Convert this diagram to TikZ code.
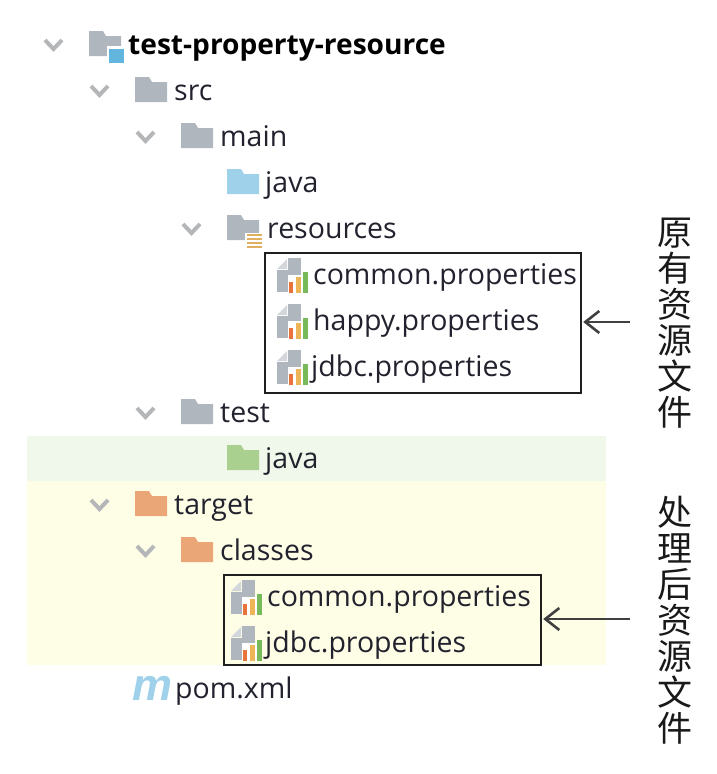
\documentclass[tikz,border=0pt]{standalone}
\usepackage{fontspec}
\setmainfont{Open Sans}
\newfontfamily\cjkfont{Noto Sans CJK SC}
\newfontfamily\mfont{Liberation Sans}
\usetikzlibrary{arrows.meta}
\definecolor{txt}{HTML}{22222E}
\definecolor{greyf}{HTML}{AFB6BE}
\definecolor{chev}{HTML}{B4B6B8}
\definecolor{bluef}{HTML}{9FD2EA}
\definecolor{greenf}{HTML}{A9D08E}
\definecolor{orangef}{HTML}{EBA678}
\definecolor{bluesq}{HTML}{62B5DC}
\definecolor{rowgreen}{HTML}{EFF8EA}
\definecolor{rowyellow}{HTML}{FEFEE6}
\definecolor{barO}{HTML}{E8743B}
\definecolor{barY}{HTML}{EDB458}
\definecolor{barG}{HTML}{77B95B}
\definecolor{linesO}{HTML}{E0B060}
\tikzset{
  treelabel/.style={anchor=base west,inner sep=0pt,text=txt,font=\fontsize{28.5}{30}\selectfont},
  rootlabel/.style={treelabel,font=\fontsize{28.1}{30}\selectfont\bfseries,text=black},
  selbox/.style={draw=black!88,line width=2.2pt,anchor=north west,inner sep=0pt,fill=none},
  notearrow/.style={draw=black!75,line width=2.8pt,-{Straight Barb[length=14pt,width=22pt,line width=2.6pt]},shorten >=1pt},
  notetext/.style={inner sep=0pt,align=center,text=black!90,font=\cjkfont\fontsize{35}{36}\selectfont},
  mlabel/.style={inner sep=0pt,anchor=base west,text=bluef,font=\mfont\fontsize{45}{45}\selectfont\bfseries\itshape}
}
% #1 left x, #2 row centre y, #3 colour
\newcommand{\foldericon}[3]{%
  \fill[#3] (#1,#2-13) -- (#1+14,#2-13) -- (#1+17,#2-8) -- (#1+32,#2-8) -- (#1+32,#2+12) -- (#1,#2+12) -- cycle;}
% #1 left x, #2 row centre y
\newcommand{\chevicon}[2]{%
  \draw[chev,line width=4pt] (#1+2,#2-4) -- (#1+10.5,#2+5) -- (#1+19,#2-4);}
% #1 left x, #2 row centre y
\newcommand{\propicon}[2]{%
  \fill[greyf!55] (#1,#2-5) -- (#1+10,#2-15) -- (#1+10,#2-5) -- cycle;
  \fill[greyf] (#1+11,#2-16) -- (#1+24,#2-16) -- (#1+24,#2+3) -- (#1+11,#2+3) -- cycle;
  \fill[greyf] (#1,#2-4) -- (#1+11,#2-4) -- (#1+11,#2+18) -- (#1,#2+18) -- cycle;
  \fill[white] (#1+11,#2+1) rectangle (#1+31,#2+19);
  \fill[barO] (#1+11.5,#2+8) rectangle (#1+16,#2+19);
  \fill[barY] (#1+19,#2+3) rectangle (#1+24,#2+19);
  \fill[barG] (#1+26,#2-2) rectangle (#1+31,#2+19);}
\begin{document}
\begin{tikzpicture}[x=1pt,y=-1pt]
\useasboundingbox (0,0) rectangle (716,774);
% row backgrounds
\fill[rowgreen] (27,436) rectangle (606,481);
\fill[rowyellow] (27,481) rectangle (606,665);
% root
\chevicon{43}{44}
\fill[greyf] (89,31) -- (103,31) -- (106,36) -- (121,36) -- (121,56) -- (89,56) -- cycle;
\fill[white] (107,46) rectangle (125,64);
\fill[bluesq] (109,48.5) rectangle (124,63);
\node[rootlabel] (root) at (128,54) {test-property-resource};
% src
\chevicon{89}{90}
\foldericon{135}{90}{greyf}
\node[treelabel] (src) at (174,100) {src};
% main
\chevicon{135}{136}
\foldericon{181}{136}{greyf}
\node[treelabel] (main) at (220,146) {main};
% java
\foldericon{227}{182}{bluef}
\node[treelabel] (java1) at (265,192) {java};
% resources
\chevicon{181}{228}
\foldericon{227}{228}{greyf}
\fill[white] (245,233) rectangle (263,249);
\foreach \yy in {234,238,242,246}
  \fill[linesO] (247,\yy) rectangle (262,\yy+2.2);
\node[treelabel] (resources) at (267,238) {resources};
% first files
\propicon{277}{274}
\node[treelabel] (common1) at (313,284) {common.properties};
\propicon{277}{320}
\node[treelabel] (happy) at (313,330) {happy.properties};
\propicon{277}{366}
\node[treelabel] (jdbc1) at (311,376) {jdbc.properties};
% test
\chevicon{135}{412}
\foldericon{181}{412}{greyf}
\node[treelabel] (test) at (220,422) {test};
\foldericon{227}{458}{greenf}
\node[treelabel] (java2) at (265,468) {java};
% target
\chevicon{89}{504}
\foldericon{135}{504}{orangef}
\node[treelabel] (target) at (174,514) {target};
\chevicon{135}{550}
\foldericon{181}{550}{orangef}
\node[treelabel] (classes) at (220,560) {classes};
% second files
\propicon{231}{596}
\node[treelabel] (common2) at (267,606) {common.properties};
\propicon{231}{642}
\node[treelabel] (jdbc2) at (265,652) {jdbc.properties};
% pom
\node[mlabel] (pomicon) at (132,700) {m};
\node[treelabel] (pom) at (175,698) {pom.xml};
% boxes
\node[selbox,minimum width=316pt,minimum height=140pt] (box1) at (264,252) {};
\node[selbox,minimum width=317pt,minimum height=90pt] (box2) at (223,574) {};
% notes
\node[notetext] (note1) at (675,323) {原\\有\\资\\源\\文\\件};
\node[notetext] (note2) at (675,620) {处\\理\\后\\资\\源\\文\\件};
\coordinate (a1) at (630,322);
\coordinate (a2) at (630,619);
\draw[notearrow] (a1) -- (box1.east |- a1);
\draw[notearrow] (a2) -- (box2.east |- a2);
\end{tikzpicture}
\end{document}
